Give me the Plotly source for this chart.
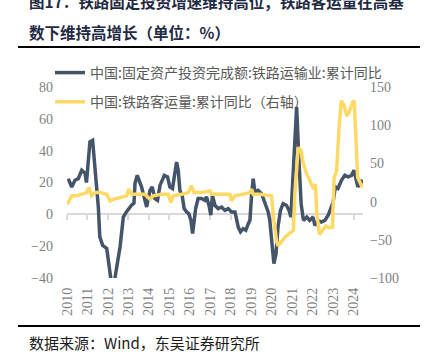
import plotly.graph_objects as go

# ---- data ----
years = list(range(2010, 2025))
year_labels = [str(y) for y in years]

fai_t = [2010.06, 2010.23, 2010.39, 2010.55, 2010.72, 2010.88, 2010.95, 2011.12, 2011.25, 2011.37,
         2011.53, 2011.60, 2011.74, 2011.94, 2012.10, 2012.22, 2012.34, 2012.59, 2012.75, 2012.90,
         2013.15, 2013.27, 2013.32, 2013.43, 2013.64, 2013.89, 2014.05, 2014.16, 2014.29, 2014.42,
         2014.54, 2014.75, 2014.91, 2015.02, 2015.15, 2015.23, 2015.35, 2015.43, 2015.51, 2015.62,
         2015.72, 2015.84, 2015.95, 2016.05, 2016.13, 2016.21, 2016.28, 2016.40, 2016.57, 2016.73,
         2016.81, 2016.93, 2017.02, 2017.10, 2017.22, 2017.38, 2017.55, 2017.71, 2017.87, 2018.03,
         2018.20, 2018.36, 2018.47, 2018.60, 2018.73, 2018.85, 2018.93, 2019.01, 2019.09, 2019.17,
         2019.33, 2019.50, 2019.66, 2019.82, 2019.90, 2019.98, 2020.10, 2020.20, 2020.30, 2020.42,
         2020.55, 2020.71, 2020.84, 2020.93, 2021.05, 2021.21, 2021.33, 2021.43, 2021.54, 2021.71,
         2021.85, 2022.01, 2022.10, 2022.26, 2022.42, 2022.59, 2022.75, 2022.88, 2022.99, 2023.10,
         2023.23, 2023.40, 2023.56, 2023.72, 2023.89, 2024.01, 2024.13, 2024.20, 2024.34, 2024.45]
fai_v = [22.4, 17.2, 21.4, 22.4, 27.7, 25.8, 20, 45.5, 46.5, 29.7,
         4.6, -14, -19.5, -21.4, -40, -48, -40, -20.5, -1.7, 1.5,
         5.7, 7, 19.5, 24.5, 17.2, 4.6, 15, 17.2, 9.9, 8.8,
         18.2, 24.5, 23.5, 17.2, 16.2, 23.5, 32.9, 27.7, 15, 12,
         3.6, 1.5, 0.4, -3.8, -12, -4, 3.6, 9.9, 9.9, 8.8,
         11, 5.7, -0.5, 12, 5.7, 3.6, 4.6, 2.5, 3.6, 1.5,
         1.5, -8, -11, -9, -10, -5.9, -3.8, 12, 22.4, 14,
         15, 13, 6.7, 1.5, -3.8, -14, -31, -25, -8, 2.5,
         6.7, 5.7, 2.5, -1.7, 31.9, 67.5, 32, 6.7, -3.8, -1.7,
         -3.8, -1.7, -7, -3.8, -4.8, -3.8, -0.6, 3.6, 7.7, 17.2,
         16.2, 21.4, 24.5, 23.5, 24.5, 27.7, 21.4, 17.2, 21.4, 19.3]

pax_t = [2010.02, 2010.23, 2010.47, 2010.72, 2010.96, 2011.07, 2011.20, 2011.37, 2011.61, 2011.94,
         2012.10, 2012.26, 2012.59, 2012.91, 2013.02, 2013.15, 2013.56, 2013.80, 2014.05, 2014.21,
         2014.62, 2014.94, 2015.07, 2015.18, 2015.59, 2015.92, 2016.08, 2016.21, 2016.57, 2016.98,
         2017.06, 2017.63, 2017.95, 2018.03, 2018.20, 2018.60, 2018.93, 2019.01, 2019.09, 2019.42,
         2019.82, 2019.98, 2020.10, 2020.23, 2020.31, 2020.47, 2020.63, 2020.88, 2021.05, 2021.13,
         2021.29, 2021.43, 2021.54, 2021.71, 2021.88, 2022.04, 2022.13, 2022.20, 2022.33, 2022.46,
         2022.63, 2022.79, 2022.96, 2023.04, 2023.16, 2023.29, 2023.39, 2023.53, 2023.66, 2023.77,
         2023.94, 2024.02, 2024.10, 2024.19, 2024.34, 2024.45]
pax_v = [-3.4, 7.5, 7.5, 9.7, 11.8, 18.4, 7.5, 11.8, 11.8, 9.7,
         1, 3, 5.2, 7.5, 16.3, 9.7, 9.7, 9.7, 3.1, 7.5,
         9.7, 9.7, -1.3, 7.5, 9.7, 11.8, 20.6, 11.8, 11.8, 14,
         9.7, 9.7, 9.7, 1, 7.5, 9.7, 11.8, 16.3, 9.7, 9.7,
         7.5, 7.5, -25, -52, -58, -52, -47, -41, -38, 14,
         71, 66.5, 49, 36, 25, 16.3, 23, -16.5, -43, -38,
         -32, -34, -34, 31.5, 40, 101, 132, 126, 112, 117,
         130, 132, 80, 31.5, 23, 18.4]

name_fai = "中国:固定资产投资完成额:铁路运输业:累计同比"
name_pax = "中国:铁路客运量:累计同比（右轴）"
title_l1 = "图17：铁路固定投资增速维持高位；铁路客运量在高基"
title_l2 = "数下维持高增长（单位：%）"
source = "数据来源：Wind，东吴证券研究所"

BLUE = "#44546A"
GOLD = "#FFD966"
GRAY = "#7f7f7f"
CJK = "Noto Sans CJK SC"
SERIF = "Liberation Serif"

fig = go.Figure()
# invisible helper trace for the zero-line axis
fig.add_trace(go.Scatter(x=[years[0]], y=[0], xaxis="x2", yaxis="y", mode="lines",
                         showlegend=False, hoverinfo="skip", line=dict(width=0)))
fig.add_trace(go.Scatter(x=fai_t, y=fai_v, name=name_fai, mode="lines",
                         line=dict(color=BLUE, width=3.5), legendgroup="a"))
fig.add_trace(go.Scatter(x=pax_t, y=pax_v, name=name_pax, mode="lines", yaxis="y2",
                         line=dict(color=GOLD, width=3.5), legendgroup="b"))

W, H = 425, 363
ml, mr, mt, mb = 67, 62, 87, 85
ph = H - mt - mb
pw = W - ml - mr

def px_x(x):
    return (x - ml) / pw

def px_y(y):
    return (H - mb - y) / ph

tickfont = dict(family=SERIF, size=14, color=GRAY)
xr = [2010.0, 2024.45]

fig.update_layout(
    width=W, height=H,
    margin=dict(l=ml, r=mr, t=mt, b=mb, autoexpand=False),
    paper_bgcolor="white", plot_bgcolor="white",
    showlegend=True,
    legend=dict(x=px_x(50), y=px_y(57), xanchor="left", yanchor="top",
                bgcolor="rgba(0,0,0,0)", font=dict(family=CJK, size=14, color="#595959"),
                tracegroupgap=8),
    xaxis=dict(range=xr, tickvals=years, ticktext=year_labels, tickangle=-90,
               showgrid=False, zeroline=False, showline=False, ticks="",
               tickfont=tickfont, ticklabelstandoff=6),
    xaxis2=dict(range=xr, overlaying="x", anchor="free", position=1/3,
                tickvals=years, showticklabels=False, showgrid=False, zeroline=False,
                showline=True, linecolor="#d9d9d9", linewidth=1.5,
                ticks="outside", ticklen=5, tickcolor="#d9d9d9", tickwidth=1.5,
                layer="below traces"),
    yaxis=dict(range=[-40, 80], tickvals=[-40, -20, 0, 20, 40, 60, 80],
               showgrid=False, zeroline=False, showline=False, ticks="",
               tickfont=tickfont, ticklabelstandoff=13),
    yaxis2=dict(range=[-100, 150], tickvals=[-100, -50, 0, 50, 100, 150],
                overlaying="y", side="right", showgrid=False, zeroline=False,
                showline=False, ticks="", tickfont=tickfont, ticklabelstandoff=6),
    shapes=[
        dict(type="line", xref="paper", yref="paper", x0=px_x(18), x1=px_x(420),
             y0=px_y(47), y1=px_y(47), line=dict(color="black", width=2)),
        dict(type="line", xref="paper", yref="paper", x0=px_x(18), x1=px_x(420),
             y0=px_y(326), y1=px_y(326), line=dict(color="black", width=2)),
    ],
    annotations=[
        dict(text="<b>" + title_l1 + "</b>", xref="paper", yref="paper", x=px_x(27), y=px_y(1),
             xanchor="left", yanchor="middle", showarrow=False,
             font=dict(family=CJK, size=15.5, color="#1f2a44")),
        dict(text="<b>" + title_l2 + "</b>", xref="paper", yref="paper", x=px_x(27), y=px_y(32),
             xanchor="left", yanchor="middle", showarrow=False,
             font=dict(family=CJK, size=15.5, color="#1f2a44")),
        dict(text=source, xref="paper", yref="paper", x=px_x(27), y=px_y(342),
             xanchor="left", yanchor="middle", showarrow=False,
             font=dict(family=CJK, size=15, color="#1a1a1a")),
    ],
)

fig.write_html("out.html", config={"displayModeBar": False},
               post_script="document.body.style.margin='0px';")
